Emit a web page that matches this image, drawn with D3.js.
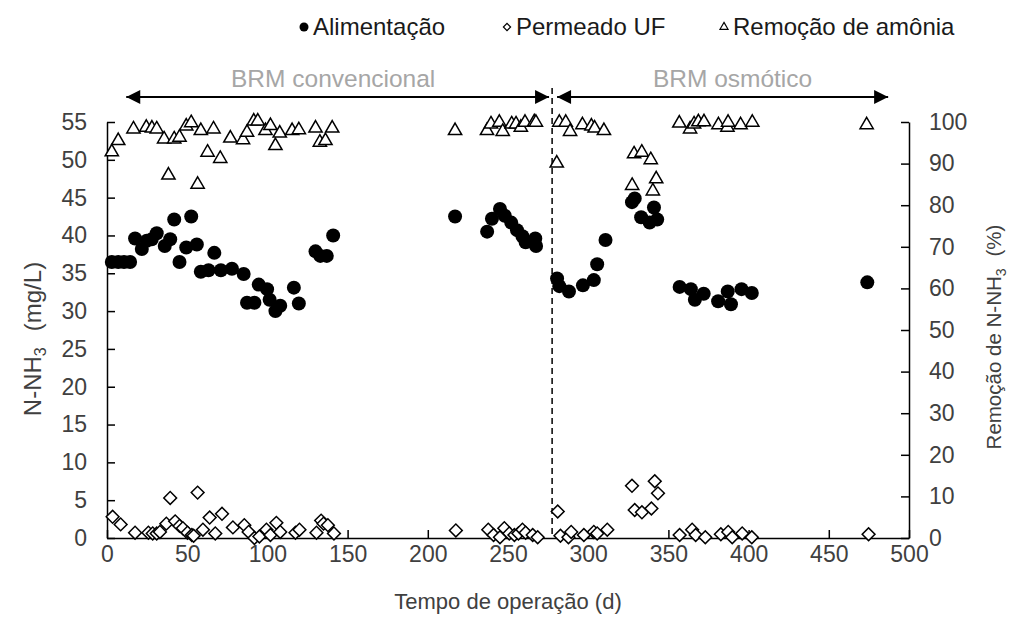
<!DOCTYPE html>
<html>
<head>
<meta charset="utf-8">
<script src="https://cdn.jsdelivr.net/npm/d3@7"></script>
<style>
  body { margin: 0; background: #fff; }
  svg { font-family: "Liberation Sans", Arial, sans-serif; }
</style>
</head>
<body>
<div id="chart"></div>
<script>
// Alimentação (mg/L) : [dia, valor]
var alimentacao = [
  [3, 36.5], [7, 36.5], [10.6, 36.5], [14.4, 36.5], [17.5, 39.6], [21.7, 38.2],
  [24.8, 39.3], [27.9, 39.5], [31, 40.3], [36, 38.6], [39.4, 39.5], [41.9, 42.1],
  [45.2, 36.5], [49.4, 38.4], [52.5, 42.5], [56, 38.8], [58.5, 35.2], [63.3, 35.4],
  [66.9, 37.7], [71, 35.4], [77.9, 35.6], [85.2, 34.9], [87.3, 31.1], [91.9, 31.1],
  [94.6, 33.5], [99.8, 32.9], [101.4, 31.5], [105, 30], [108, 30.7], [116.5, 33.1],
  [119.6, 31], [130, 37.9], [133, 37.3], [137, 37.3], [141, 40],
  [217, 42.5], [237, 40.5], [240, 42.2], [245, 43.5], [248, 42.6], [252, 41.7],
  [255.6, 40.7], [259, 39.9], [261, 39.1], [267, 39.6], [267.5, 38.6],
  [280.6, 34.3], [282, 33.3], [288, 32.6], [296.7, 33.4], [303.5, 34.1], [305.6, 36.2],
  [310.8, 39.4], [327.3, 44.4], [329, 44.9], [333, 42.4], [338.3, 41.7], [341, 43.7],
  [343, 42.1], [357, 33.2], [364, 32.9], [366.5, 31.5], [372, 32.3], [381, 31.3],
  [387, 32.6], [389, 30.9], [395.6, 32.9], [402, 32.4], [474, 33.8]
];

// Permeado UF (mg/L)
var permeado = [
  [3.5, 2.8], [8.5, 1.8], [17.5, 0.7], [25.8, 0.7], [28.5, 0.6], [31, 0.6], [33, 0.8],
  [37, 1.9], [39.4, 5.3], [42.5, 2.2], [45.2, 1.6], [47.3, 1.3], [50.2, 0.7], [52.9, 0.4],
  [54, 0.3], [56.5, 6.0], [59.8, 1.1], [64, 2.7], [67.5, 0.6], [71.7, 3.2], [78.5, 1.4],
  [85.6, 1.7], [88.3, 0.8], [91.9, 0], [95, 0.2], [99.4, 1.1], [101.9, 0.4], [105.6, 2.0],
  [108, 0.8], [117.5, 0.7], [120, 1.1], [130.6, 0.7], [133.5, 2.3], [135, 1.9],
  [137.7, 1.7], [141.5, 0.6], [217.5, 1.0],
  [237.7, 1.1], [241, 0.4], [245, 0.1], [247.7, 1.3], [250.8, 0.6], [254, 0.4],
  [256.5, 0.6], [259, 1.1], [261, 0.7], [265.4, 0.4], [268.5, 0.1],
  [281, 3.5], [282.7, 0.3], [287.7, 0.1], [289.4, 0.8], [297.3, 0.4], [303.5, 0.8],
  [305.6, 0.6], [311.9, 1.1], [327.3, 6.9], [329, 3.7], [333.5, 3.4], [339.4, 3.9],
  [341.5, 7.5], [343.5, 5.9], [357, 0.4], [364.8, 1.1], [367, 0.4], [373, 0.1],
  [382.7, 0.5], [387.3, 0.8], [389.8, 0.1], [396, 0.6], [402, 0.1], [474.8, 0.5]
];

// Remoção de amônia (%)
var remocao = [
  [3, 92.8], [7, 95.5], [16.5, 98.3], [24.5, 98.7], [28, 98.5], [31, 98.3], [35.6, 95.9],
  [38.3, 87.2], [41.9, 95.9], [45.2, 96.3], [49.4, 99], [52.5, 99.8], [56.5, 85],
  [58.5, 97.9], [62.7, 92.7], [66.4, 98.3], [70.6, 91.2], [76.9, 96.1], [84.8, 95.7],
  [87.3, 97.5], [91.5, 100.2], [94, 100.2], [98.8, 97.9], [101.9, 99.1], [105, 94.3],
  [107.7, 97.3], [115.4, 97.9], [119.6, 98.1], [130, 98.5], [132.7, 95.1], [136.2, 95.5],
  [140.4, 98.5],
  [217, 97.9], [236.9, 97.9], [239.4, 99.5], [244.6, 99.9], [246.7, 97.7], [252.3, 99.5],
  [255, 99.5], [258, 98.7], [260.6, 99.9], [266.4, 100], [267.4, 99.9],
  [280.4, 90.1], [282, 99.9], [286, 99.9], [288.7, 97.7], [296.4, 99.3], [302, 99],
  [304, 98.5], [309.8, 97.9], [327.4, 84.7], [328.6, 92.3], [333.4, 92.7], [339, 90.9],
  [340.3, 83.4], [342.4, 86.3], [356.8, 99.7], [363.5, 98.3], [366, 99.5], [368.7, 100],
  [372.2, 100], [381.2, 99.3], [386.8, 98.7], [387.2, 99.9], [395, 99.3], [402.3, 99.9],
  [473.6, 99.3]
];

// Fases do experimento: [início, fim, centro do rótulo, rótulo]
var fases = [
  [12, 275.6, 141, "BRM convencional"],
  [280.6, 487, 390, "BRM osmótico"]
];
var divisaoFase = 277.5;

var xTicks = d3.range(0, 501, 50);
var yTicks = d3.range(0, 56, 5);
var y2Ticks = d3.range(0, 101, 10);

var legenda = [
  { nome: "Alimentação", tipo: "circle" },
  { nome: "Permeado UF", tipo: "diamond" },
  { nome: "Remoção de amônia", tipo: "triangle" }
];

// Cores
var preto = "#000000";
var cinzaTexto = "#404040";
var cinzaFase = "#a6a6a6";

const W = 1010, H = 628;
const margin = { top: 122, right: 101, bottom: 90, left: 107 },
  width = W - margin.left - margin.right,
  height = H - margin.top - margin.bottom;

const svgRoot = d3.select("#chart").append("svg")
  .attr("width", W).attr("height", H);
const svg = svgRoot.append("g")
  .attr("transform", `translate(${margin.left}, ${margin.top})`);

const x = d3.scaleLinear().domain([0, 500]).range([0, width]);
const y = d3.scaleLinear().domain([0, 55]).range([height, 0]);
const y2 = d3.scaleLinear().domain([0, 100]).range([height, 0]);

const tickFont = 23;

// Eixo X
const gx = svg.append("g")
  .attr("transform", `translate(0, ${height})`)
  .call(d3.axisBottom(x).tickValues(xTicks).tickSizeInner(-8).tickSizeOuter(0).tickPadding(8));
gx.selectAll("text").style("font-size", tickFont + "px").style("fill", cinzaTexto);

// Eixo Y esquerdo
const gy = svg.append("g")
  .call(d3.axisLeft(y).tickValues(yTicks).tickSizeInner(-8).tickSizeOuter(0).tickPadding(20));
gy.selectAll("text").style("font-size", tickFont + "px").style("fill", cinzaTexto);

// Eixo Y direito
const gy2 = svg.append("g")
  .attr("transform", `translate(${width}, 0)`)
  .call(d3.axisRight(y2).tickValues(y2Ticks).tickSizeInner(-8).tickSizeOuter(0).tickPadding(20));
gy2.selectAll("text").style("font-size", tickFont + "px").style("fill", cinzaTexto);

[gx, gy, gy2].forEach(function (g) {
  g.selectAll("path.domain, line").attr("stroke", preto).attr("stroke-width", 1.5);
});

// Linha divisória
svg.append("line")
  .attr("x1", x(divisaoFase)).attr("x2", x(divisaoFase))
  .attr("y1", -34).attr("y2", height)
  .attr("stroke", preto).attr("stroke-width", 1.5)
  .attr("stroke-dasharray", "6,4");

// Setas das fases
svgRoot.append("defs").append("marker")
  .attr("id", "seta")
  .attr("viewBox", "0 0 10 10")
  .attr("refX", 10).attr("refY", 5)
  .attr("markerWidth", 8.5).attr("markerHeight", 7)
  .attr("markerUnits", "strokeWidth")
  .attr("orient", "auto-start-reverse")
  .append("path")
  .attr("d", "M0,0 L10,5 L0,10 Z")
  .attr("fill", preto);

const setaY = -25;
fases.forEach(function (f) {
  svg.append("line")
    .attr("x1", x(f[0])).attr("x2", x(f[1]))
    .attr("y1", setaY).attr("y2", setaY)
    .attr("stroke", preto).attr("stroke-width", 2)
    .attr("marker-start", "url(#seta)")
    .attr("marker-end", "url(#seta)");
  svg.append("text")
    .attr("x", x(f[2]))
    .attr("y", setaY - 10)
    .attr("text-anchor", "middle")
    .style("font-size", "24.5px")
    .style("fill", cinzaFase)
    .text(f[3]);
});

// Séries
svg.append("g").selectAll("circle")
  .data(alimentacao).enter().append("circle")
  .attr("cx", d => x(d[0])).attr("cy", d => y(d[1]))
  .attr("r", 7).attr("fill", preto);

const diamante = d3.symbol().type(d3.symbolSquare).size(82);
svg.append("g").selectAll("path")
  .data(permeado).enter().append("path")
  .attr("d", diamante)
  .attr("transform", d => `translate(${x(d[0])}, ${y(d[1])}) rotate(45)`)
  .attr("fill", "#fff").attr("stroke", preto).attr("stroke-width", 1.5);

const triangulo = d3.symbol().type(d3.symbolTriangle).size(76);
svg.append("g").selectAll("path")
  .data(remocao).enter().append("path")
  .attr("d", triangulo)
  .attr("transform", d => `translate(${x(d[0])}, ${y2(d[1])})`)
  .attr("fill", "#fff").attr("stroke", preto).attr("stroke-width", 1.5);

// Legenda
const legX = [304, 507, 724];
const legY = 27;
legenda.forEach(function (l, i) {
  const g = svgRoot.append("g").attr("transform", `translate(${legX[i]}, ${legY})`);
  if (l.tipo === "circle") {
    g.append("circle").attr("r", 4.5).attr("fill", preto);
  } else if (l.tipo === "diamond") {
    g.append("path").attr("d", d3.symbol().type(d3.symbolSquare).size(26))
      .attr("transform", "rotate(45)")
      .attr("fill", "#fff").attr("stroke", preto).attr("stroke-width", 1.2);
  } else {
    g.append("path").attr("d", d3.symbol().type(d3.symbolTriangle).size(28))
      .attr("fill", "#fff").attr("stroke", preto).attr("stroke-width", 1.2);
  }
  g.append("text")
    .attr("x", 9).attr("y", 8)
    .style("font-size", "24px")
    .style("fill", "#1a1a1a")
    .text(l.nome);
});

// Títulos dos eixos
svgRoot.append("text")
  .attr("x", margin.left + width / 2)
  .attr("y", 609)
  .attr("text-anchor", "middle")
  .style("font-size", "22px")
  .style("fill", cinzaTexto)
  .text("Tempo de operação (d)");

const tituloY = svgRoot.append("text")
  .attr("transform", "translate(41, 339) rotate(-90)")
  .attr("text-anchor", "middle")
  .style("font-size", "24px")
  .style("fill", cinzaTexto);
tituloY.append("tspan").text("N-NH");
tituloY.append("tspan").attr("dy", 5).style("font-size", "16px").text("3");
tituloY.append("tspan").attr("dy", -5).attr("dx", 16).text("(mg/L)");

const tituloY2 = svgRoot.append("text")
  .attr("transform", "translate(1001, 337) rotate(-90)")
  .attr("text-anchor", "middle")
  .style("font-size", "20.5px")
  .style("fill", cinzaTexto);
tituloY2.append("tspan").text("Remoção de N-NH");
tituloY2.append("tspan").attr("dy", 5).style("font-size", "14px").text("3");
tituloY2.append("tspan").attr("dy", -5).attr("dx", 12).text("(%)");
</script>
</body>
</html>
